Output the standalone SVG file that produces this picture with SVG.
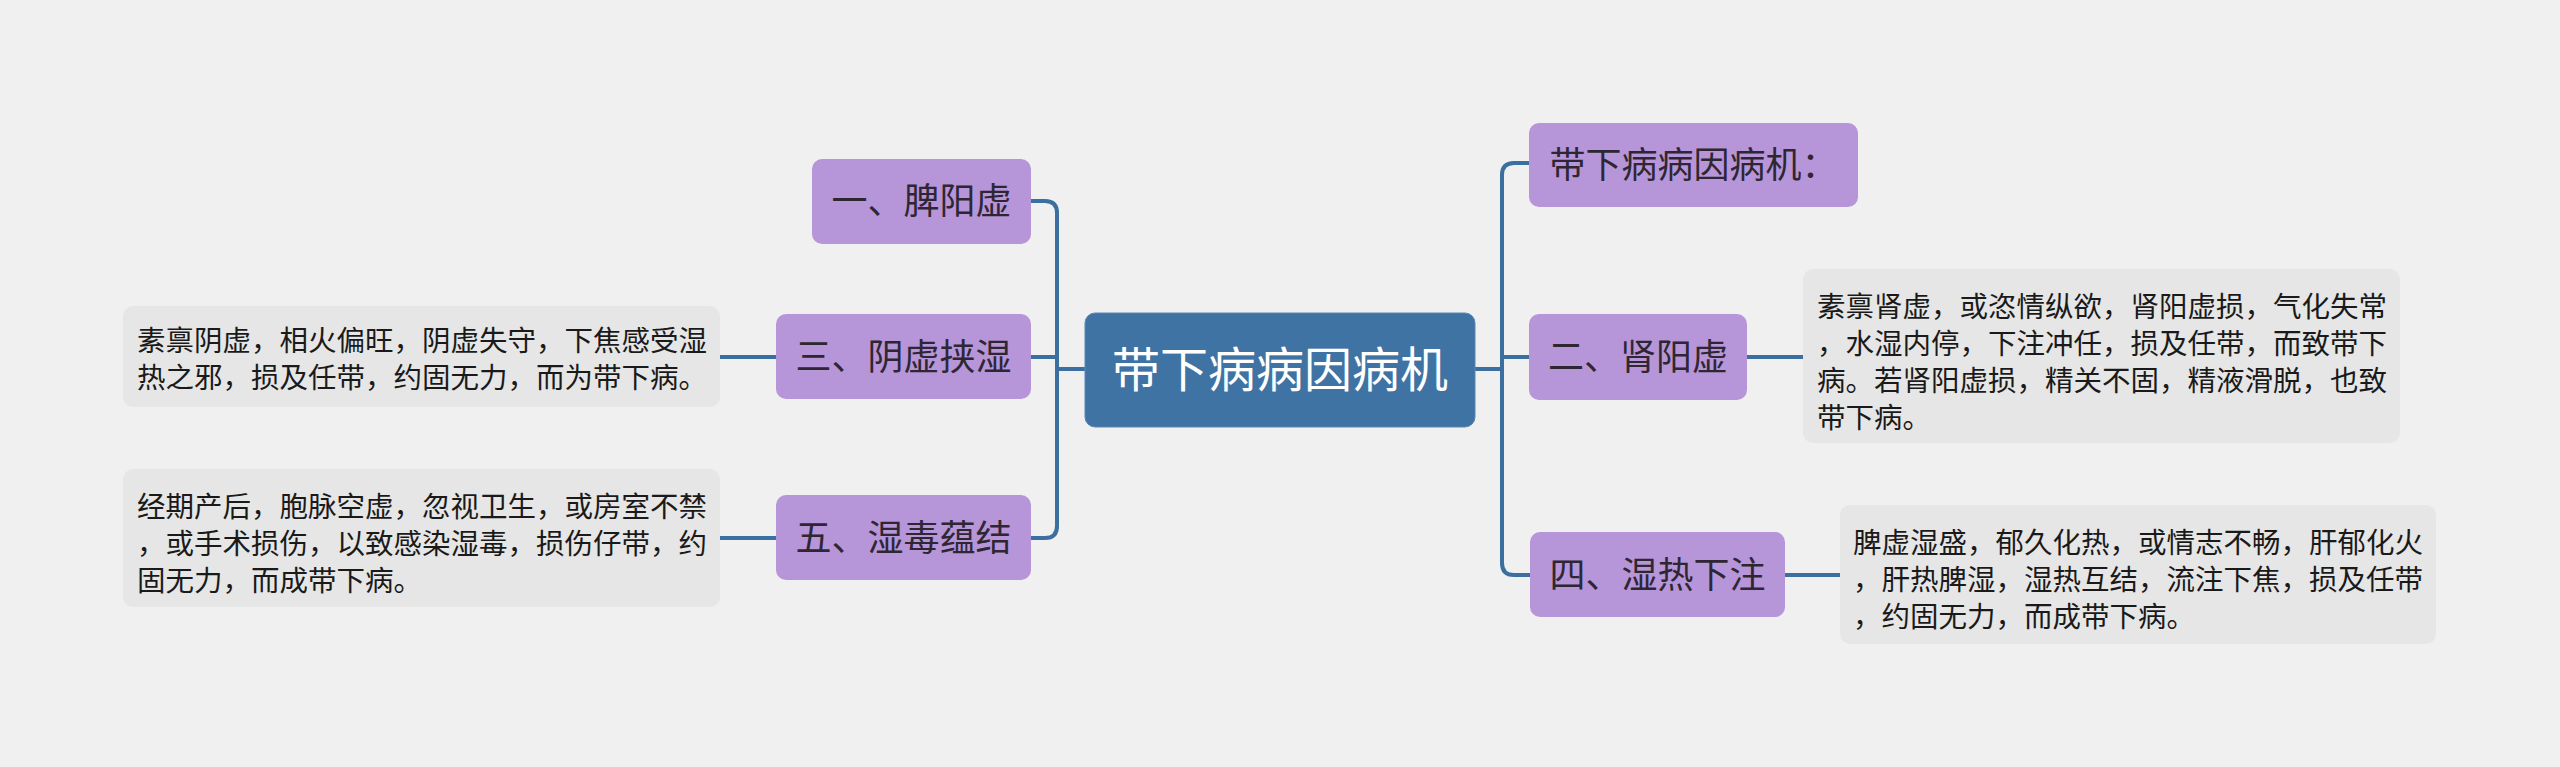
<svg xmlns="http://www.w3.org/2000/svg" width="2560" height="767" viewBox="0 0 2560 767">
<style>
.bg{fill:#f0f0f0}
.root rect{fill:#3f73a4;stroke:#5b87b3;stroke-width:1}
.root text{fill:#ffffff;font-size:48px}
.sub rect{fill:#b795d9}
.sub text{fill:#2e2733;font-size:36px}
.desc rect{fill:#e6e6e6}
.desc text{fill:#1a1a1a;font-size:28.5px}
text{font-family:"Noto Sans CJK SC","Noto Sans",sans-serif}
.conn path{fill:none;stroke:#3b6f9f;stroke-width:4}
</style>
<rect class="bg" x="0" y="0" width="2560" height="767"/>
<g class="conn" id="connectors">
<path d="M1085,369 H1057"/>
<path d="M1031,201 H1045 Q1057,201 1057,213 V526 Q1057,538 1045,538 H1031"/>
<path d="M1031,357 H1057"/>
<path d="M776,357 H720"/>
<path d="M776,538 H720"/>
<path d="M1475,369 H1502"/>
<path d="M1529,163 H1514 Q1502,163 1502,175 V563 Q1502,575 1514,575 H1530"/>
<path d="M1502,357 H1529"/>
<path d="M1747,357 H1803"/>
<path d="M1785,575 H1840"/>
</g>
<g class="root" id="root">
<rect x="1085" y="313" width="390" height="114" rx="10"/>
<text x="1280" y="387" text-anchor="middle">带下病病因病机</text>
</g>
<g class="sub" id="n1">
<rect x="812" y="159" width="219" height="85" rx="10"/>
<text x="921.5" y="214" text-anchor="middle">一、脾阳虚</text>
</g>
<g class="sub" id="n3">
<rect x="776" y="314" width="255" height="85" rx="10"/>
<text x="903.5" y="370" text-anchor="middle">三、阴虚挟湿</text>
</g>
<g class="sub" id="n5">
<rect x="776" y="495" width="255" height="85" rx="10"/>
<text x="903.5" y="551" text-anchor="middle">五、湿毒蕴结</text>
</g>
<g class="sub" id="n0">
<rect x="1529" y="123" width="329" height="84" rx="10"/>
<text x="1693.5" y="178" text-anchor="middle">带下病病因病机：</text>
</g>
<g class="sub" id="n2">
<rect x="1529" y="314" width="218" height="86" rx="10"/>
<text x="1638" y="370" text-anchor="middle">二、肾阳虚</text>
</g>
<g class="sub" id="n4">
<rect x="1530" y="532" width="255" height="85" rx="10"/>
<text x="1657.5" y="588" text-anchor="middle">四、湿热下注</text>
</g>
<g class="desc" id="d3">
<rect x="123" y="306" width="597" height="101" rx="10"/>
<text x="137" y="351">素禀阴虚，相火偏旺，阴虚失守，下焦感受湿</text>
<text x="137" y="388">热之邪，损及任带，约固无力，而为带下病。</text>
</g>
<g class="desc" id="d5">
<rect x="123" y="469" width="597" height="138" rx="10"/>
<text x="137" y="517">经期产后，胞脉空虚，忽视卫生，或房室不禁</text>
<text x="137" y="554">，或手术损伤，以致感染湿毒，损伤仔带，约</text>
<text x="137" y="591">固无力，而成带下病。</text>
</g>
<g class="desc" id="d2">
<rect x="1803" y="269" width="597" height="174" rx="10"/>
<text x="1817" y="317">素禀肾虚，或恣情纵欲，肾阳虚损，气化失常</text>
<text x="1817" y="354">，水湿内停，下注冲任，损及任带，而致带下</text>
<text x="1817" y="391">病。若肾阳虚损，精关不固，精液滑脱，也致</text>
<text x="1817" y="428">带下病。</text>
</g>
<g class="desc" id="d4">
<rect x="1840" y="505" width="596" height="139" rx="10"/>
<text x="1853" y="553">脾虚湿盛，郁久化热，或情志不畅，肝郁化火</text>
<text x="1853" y="590">，肝热脾湿，湿热互结，流注下焦，损及任带</text>
<text x="1853" y="627">，约固无力，而成带下病。</text>
</g>
</svg>
